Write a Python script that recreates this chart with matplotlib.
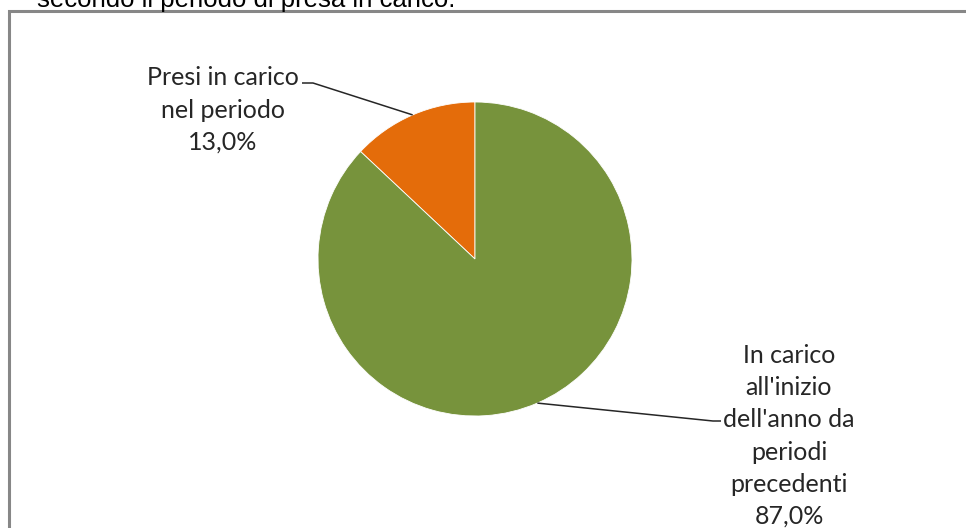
import numpy as np
import matplotlib
matplotlib.use("Agg")
import matplotlib.pyplot as plt
from matplotlib.patches import Rectangle

labels = ["Presi in carico\nnel periodo", "In carico\nall'inizio\ndell'anno da\nperiodi\nprecedenti"]
values = [13.0, 87.0]
colors = ["#E46C0A", "#77933C"]
title = "secondo il periodo di presa in carico."

W, H = 966, 528
fig = plt.figure(figsize=(W / 100, H / 100), dpi=100)
ax = fig.add_axes([0, 0, 1, 1])
ax.set_xlim(0, W)
ax.set_ylim(0, H)
ax.axis("off")

cx, cy, r = 475, H - 259, 157
wedges, _ = ax.pie(values, colors=colors, startangle=90, counterclock=True,
                   center=(cx, cy), radius=r,
                   wedgeprops=dict(edgecolor="white", linewidth=0.6))
ax.set_xlim(0, W)
ax.set_ylim(0, H)
ax.set_aspect("equal")

font = dict(family=["Lato", "DejaVu Sans"], fontsize=18, color="#262626")
label_pos = [(223, H - 110), (789, H - 436)]
line_ends = [((313, H - 83), (302, H - 83)), ((713, H - 421), (721, H - 421))]
for w, lab, v, (tx, ty), (p1, p2) in zip(wedges, labels, values, label_pos, line_ends):
    ang = np.deg2rad((w.theta1 + w.theta2) / 2)
    ex, ey = cx + r * np.cos(ang), cy + r * np.sin(ang)
    ax.plot([ex, p1[0], p2[0]], [ey, p1[1], p2[1]], color="#262626", lw=1.1,
            solid_capstyle="butt")
    txt = lab + "\n" + f"{v:.1f}".replace(".", ",") + "%"
    ax.text(tx, ty, txt, ha="center", va="center", linespacing=1.48, **font)

# chart border (partially cropped)
fig.patches.append(Rectangle((9 / W, -0.1), 1.2, (H - 11) / H + 0.1,
                             transform=fig.transFigure, fill=False,
                             edgecolor="#878787", linewidth=2.2))
# cropped title
fig.text(37 / W, (H - 7) / H, title, ha="left", va="baseline",
         family=["Liberation Sans"], fontsize=18.5, color="#000000")

fig.savefig("out.png", dpi=100)
